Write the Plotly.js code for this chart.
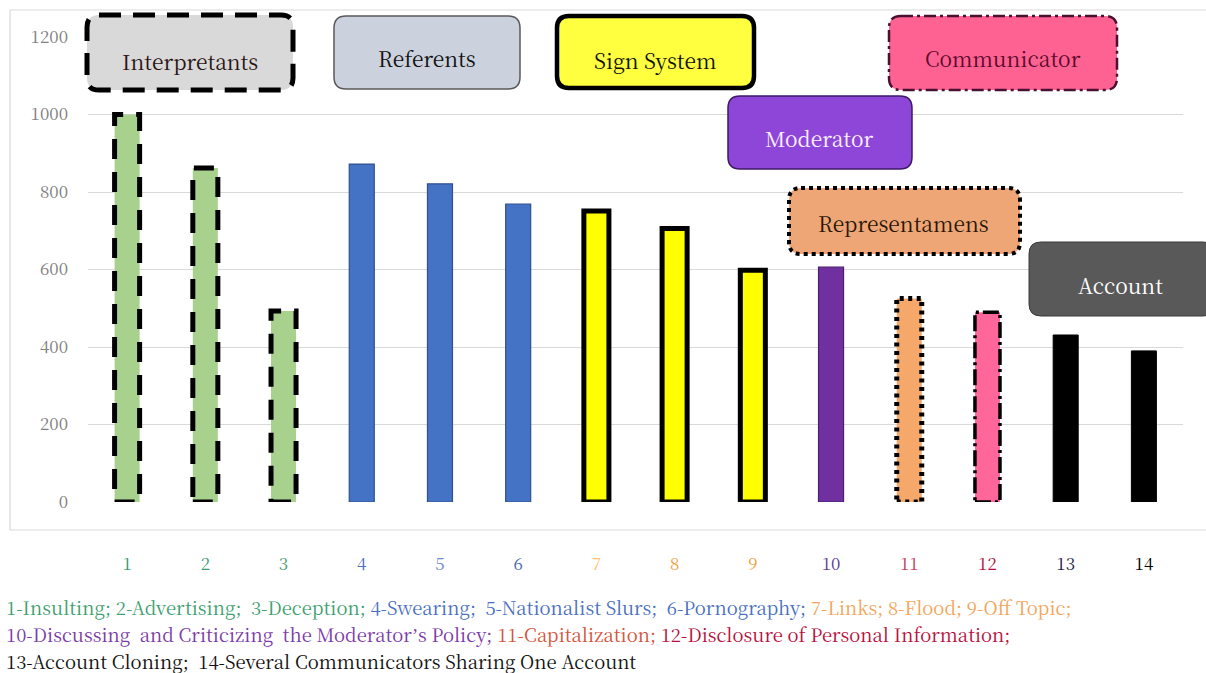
<!DOCTYPE html>
<html>
<head>
<meta charset="utf-8">
<script src="https://cdn.plot.ly/plotly-3.0.1.min.js"></script>
<style>html,body{margin:0;padding:0;background:#fff;}#chart{width:1206px;height:673px;}</style>
</head>
<body>
<div id="chart"></div>
<script>
// ---- data ----
var categories = [1,2,3,4,5,6,7,8,9,10,11,12,13,14];
var tickLabels = ["1","2","3","4","5","6","7","8","9","10","11","12","13","14"];
var values = [1000, 862, 493, 872, 821, 769, 751, 706, 598, 606, 525, 490, 431, 390];
var yTicks = [0, 200, 400, 600, 800, 1000, 1200];
var groupNames = ["Interpretants","Referents","Sign System","Communicator","Moderator","Representamens","Account"];
var legendLines = [
  [["1-Insulting; 2-Advertising;  3-Deception; ","#3f9f6f"],["4-Swearing;  5-Nationalist Slurs;  6-Pornography; ","#4a70c0"],["7-Links; 8-Flood; 9-Off Topic;","#f4a55a"]],
  [["10-Discussing  and Criticizing  the Moderator\u2019s Policy; ","#7a3aa8"],["11-Capitalization; ","#d4543a"],["12-Disclosure of Personal Information;","#b8103e"]],
  [["13-Account Cloning;  14-Several Communicators Sharing One Account","#111111"]]
];

// ---- styles ----
var SERIF = "Noto Serif CJK SC";
var barFill = ["#a9d18e","#a9d18e","#a9d18e","#4472c4","#4472c4","#4472c4","#ffff00","#ffff00","#ffff00","#7030a0","#f6a76a","#ff6699","#000000","#000000"];
var barLineW = [0,0,0,1.2,1.2,1.2,5,5,5,1.2,0,0,1,1];
var barLineC = ["#000","#000","#000","#2f528f","#2f528f","#2f528f","#000","#000","#000","#4b1f6f","#000","#000","#000","#000"];
var tickColors = ["#2f9a78","#3f9a78","#3f9a70","#4a70c0","#6a8ad0","#4a68b0","#ffc070","#f0a040","#f0a040","#5a3a9a","#c04060","#b01040","#202040","#000000"];
var dashOutline = {0:{dash:"20px,13px",w:5},1:{dash:"20px,13px",w:5},2:{dash:"20px,13px",w:5},10:{dash:"4px,4.5px",w:5},11:{dash:"16px,4px,3px,4px",w:3.5}};

var L = 88, R = 1183, T = 37, B = 502, W = 1206, H = 673;
function px(x){ return (x - L) / (R - L); }
function py(y){ return (B - y) / (B - T); }
function rrect(l, t, r, b, rad){
  var rx = rad / (R - L), ry = rad / (B - T);
  var x0 = px(l), x1 = px(r), y0 = py(t), y1 = py(b);
  return "M" + (x0+rx) + "," + y0 + " L" + (x1-rx) + "," + y0 + " Q" + x1 + "," + y0 + " " + x1 + "," + (y0-ry) +
    " L" + x1 + "," + (y1+ry) + " Q" + x1 + "," + y1 + " " + (x1-rx) + "," + y1 +
    " L" + (x0+rx) + "," + y1 + " Q" + x0 + "," + y1 + " " + x0 + "," + (y1+ry) +
    " L" + x0 + "," + (y0-ry) + " Q" + x0 + "," + y0 + " " + (x0+rx) + "," + y0 + " Z";
}

var boxes = [
  {l:87,t:15,r:293,b:90,fill:"#d9d9d9",lc:"#000",lw:5,dash:"22px,12px",tc:"#2a1414",cx:190,cy:61},
  {l:334,t:16,r:520,b:89,fill:"#cbd2dd",lc:"#5a5a5a",lw:1.5,dash:"solid",tc:"#111",cx:427,cy:58},
  {l:557,t:16,r:754,b:88,fill:"#ffff40",lc:"#000",lw:4.5,dash:"solid",tc:"#111",cx:655,cy:60},
  {l:889,t:16,r:1117,b:90,fill:"#fe6292",lc:"#4a1030",lw:2.5,dash:"12px,4px,3px,4px",tc:"#5a0a2a",cx:1003,cy:58},
  {l:728,t:96,r:912,b:169,fill:"#8e46d8",lc:"#3d1a66",lw:1.5,dash:"solid",tc:"#fbf0ff",cx:819,cy:138},
  {l:789,t:188,r:1020,b:254,fill:"#eea676",lc:"#000",lw:4,dash:"4px,4px",tc:"#2a1608",cx:903,cy:223},
  {l:1029,t:242,r:1215,b:316,fill:"#595959",lc:"#3a3a3a",lw:1,dash:"solid",tc:"#ffffff",cx:1120,cy:285}
];

var shapes = [];
shapes.push({type:"rect", xref:"paper", yref:"paper", x0:px(10), x1:px(1212), y0:py(10), y1:py(530), line:{color:"#d9d9d9", width:1.2}, fillcolor:"rgba(0,0,0,0)", layer:"below"});
var bw = 0.32;
Object.keys(dashOutline).forEach(function(k){
  var i = +k, o = dashOutline[k];
  shapes.push({type:"rect", xref:"x", yref:"y", x0:categories[i]-bw/2, x1:categories[i]+bw/2, y0:0, y1:values[i], line:{color:"#000", width:o.w, dash:o.dash}, fillcolor:"rgba(0,0,0,0)"});
});
var annotations = [];
boxes.forEach(function(b, i){
  shapes.push({type:"path", xref:"paper", yref:"paper", path:rrect(b.l,b.t,b.r,b.b,12), fillcolor:b.fill, line:{color:b.lc, width:b.lw, dash:b.dash}});
  annotations.push({xref:"paper", yref:"paper", x:px(b.cx), y:py(b.cy), xanchor:"center", yanchor:"middle", showarrow:false, text:groupNames[i], font:{family:SERIF, size:21, color:b.tc}});
});
var legY = [607, 634, 661];
legendLines.forEach(function(line, k){
  var t = line.map(function(seg){
    var s = seg[0].replace("\u2019", '<span style="font-family:Liberation Serif">\u2019</span>');
    return '<span style="color:' + seg[1] + '">' + s + '</span>';
  }).join("");
  annotations.push({xref:"paper", yref:"paper", x:px(4), y:py(legY[k]), xanchor:"left", yanchor:"middle", align:"left", showarrow:false, text:t, font:{family:SERIF, size:18.5, color:"#111"}});
});

var ticktext = tickLabels.map(function(t, i){ return '<span style="color:' + tickColors[i] + '">' + t + '</span>'; });

var trace = {
  type:"bar", x:categories, y:values, width:bw,
  marker:{color:barFill, line:{width:barLineW, color:barLineC}},
  hoverinfo:"x+y"
};

var layout = {
  width:W, height:H,
  margin:{l:L, r:W-R, t:T, b:H-B, pad:0},
  paper_bgcolor:"#ffffff", plot_bgcolor:"rgba(0,0,0,0)",
  showlegend:false,
  font:{family:SERIF},
  xaxis:{range:[0.5,14.5], tickmode:"array", tickvals:categories, ticktext:ticktext, showgrid:false, zeroline:false, showline:false, ticks:"", ticklabelstandoff:50, tickfont:{family:SERIF, size:17}},
  yaxis:{range:[0,1200], tickmode:"array", tickvals:yTicks, ticktext:yTicks.map(String), showgrid:true, gridcolor:"#d9d9d9", gridwidth:1, zeroline:false, showline:false, ticks:"", ticklabelstandoff:19, tickfont:{family:SERIF, size:17, color:"#808080"}},
  shapes:shapes,
  annotations:annotations
};
Plotly.newPlot("chart", [trace], layout, {displayModeBar:false, staticPlot:true});
</script>
</body>
</html>
